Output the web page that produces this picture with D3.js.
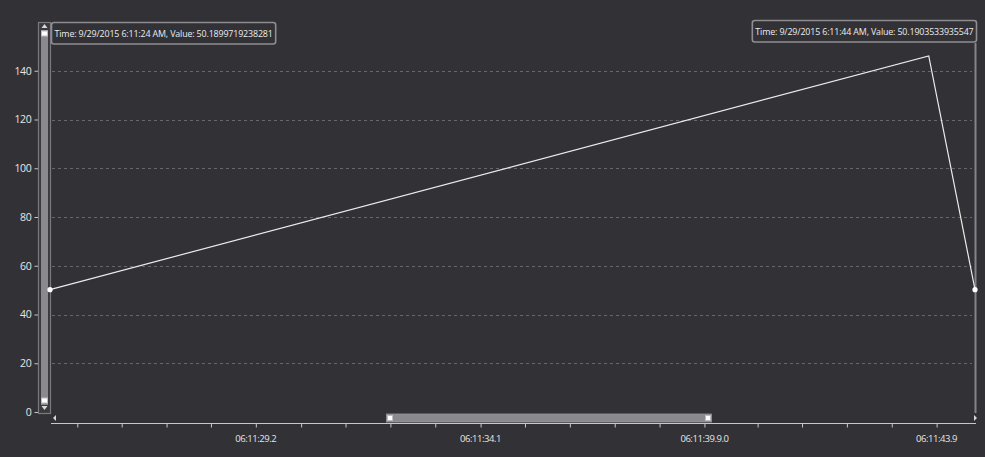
<!DOCTYPE html>
<html>
<head>
<meta charset="utf-8">
<script src="https://cdn.jsdelivr.net/npm/d3@7"></script>
<style>
  html, body { margin: 0; padding: 0; background: #323136; }
  svg { display: block; font-family: "Open Sans", "Noto Sans", sans-serif; }
</style>
</head>
<body>
<div id="chart"></div>
<script>
// data (seconds after 06:11:00)
const times = [24, 43.0, 44];
const values = [50.1899719238281, 146.1, 50.1903533935547];

const yTicks = [0, 20, 40, 60, 80, 100, 120, 140];

const minorTickTimes = [24.59, 25.55, 26.52, 27.48, 28.45, 29.43, 30.39, 31.36, 32.33, 33.31,
    34.27, 35.24, 36.21, 37.18, 38.15, 39.30, 40.26, 41.23, 42.2, 43.17];
const labelTimes = [28.45, 33.31, 38.15, 43.17];
const labelTexts = ["06:11:29.2", "06:11:34.1", "06:11:39.9.0", "06:11:43.9"];

const tooltipTexts = [
    "Time: 9/29/2015 6:11:24 AM, Value: 50.1899719238281",
    "Time: 9/29/2015 6:11:44 AM, Value: 50.1903533935547"
];

const width = 985;
const height = 457;

const svg = d3.select("#chart")
    .append("svg")
    .attr("width", width)
    .attr("height", height);

svg.append("rect")
    .attr("width", width)
    .attr("height", height)
    .attr("fill", "#323136");

const x = d3.scaleLinear().domain([24, 44]).range([50, 975]);
const y = d3.scaleLinear().domain([0, 160]).range([412, 22]);

// grid
svg.append("g")
    .selectAll("line")
    .data(yTicks.filter(d => d > 0))
    .enter()
    .append("line")
    .attr("x1", 52)
    .attr("x2", 972)
    .attr("y1", d => Math.round(y(d)) + 0.5)
    .attr("y2", d => Math.round(y(d)) + 0.5)
    .attr("stroke", "#67666b")
    .attr("stroke-width", 1)
    .attr("stroke-dasharray", "3,3");

// y axis
const yAxis = svg.append("g")
    .attr("transform", "translate(38.5,0)")
    .call(d3.axisLeft(y).tickValues(yTicks).tickSize(4).tickPadding(3));
yAxis.select(".domain").remove();
yAxis.selectAll(".tick line").attr("stroke", "#c8c8c8");
yAxis.selectAll(".tick text")
    .attr("fill", "#e6e6e6")
    .style("font-size", "10.5px")
    .style("letter-spacing", "-0.3px")
    .style("font-family", "'Open Sans', sans-serif");

// vertical scrollbar
const vs = svg.append("g");
vs.append("rect").attr("x", 38.5).attr("y", 22.5).attr("width", 12).attr("height", 391)
    .attr("fill", "#3a393e").attr("stroke", "#7a797e").attr("stroke-width", 1.2);
vs.append("rect").attr("x", 41).attr("y", 30).attr("width", 7).attr("height", 375)
    .attr("fill", "#8a898d");
vs.append("path").attr("d", "M41.5,28 L47.5,28 L44.5,24 Z").attr("fill", "#d8d8d8");
vs.append("path").attr("d", "M41.5,406 L47.5,406 L44.5,410 Z").attr("fill", "#d8d8d8");
vs.append("rect").attr("x", 41.5).attr("y", 31).attr("width", 6).attr("height", 5)
    .attr("fill", "#ffffff").attr("stroke", "#bdbdbd");
vs.append("rect").attr("x", 41.5).attr("y", 398).attr("width", 6).attr("height", 5)
    .attr("fill", "#ffffff").attr("stroke", "#bdbdbd");

// right border
svg.append("line")
    .attr("x1", 975.5).attr("x2", 975.5).attr("y1", 43).attr("y2", 413)
    .attr("stroke", "#858489").attr("stroke-width", 2);

// x axis
const xAxis = svg.append("g")
    .attr("transform", "translate(0,423.5)")
    .call(d3.axisBottom(x).tickValues(minorTickTimes).tickSize(4).tickFormat(""));
xAxis.select(".domain").remove();
xAxis.selectAll(".tick line").attr("stroke", "#c8c8c8");
svg.append("line")
    .attr("x1", 51).attr("x2", 976).attr("y1", 423.5).attr("y2", 423.5)
    .attr("stroke", "#c8c8c8").attr("stroke-width", 1.2);

svg.append("g")
    .selectAll("text")
    .data(labelTimes)
    .enter()
    .append("text")
    .attr("x", d => x(d))
    .attr("y", 442)
    .attr("text-anchor", "middle")
    .attr("fill", "#e6e6e6")
    .style("font-size", "9.5px")
    .style("letter-spacing", "-0.45px")
    .text((d, i) => labelTexts[i]);

// horizontal scrollbar
const hs = svg.append("g");
hs.append("path").attr("d", "M56,415 L56,421 L53,418 Z").attr("fill", "#d8d8d8");
hs.append("path").attr("d", "M974,415 L974,421 L977,418 Z").attr("fill", "#d8d8d8");
hs.append("rect").attr("x", 386.5).attr("y", 414).attr("width", 325).attr("height", 8)
    .attr("fill", "#8a898d").attr("stroke", "#9a999d").attr("stroke-width", 0.8);
hs.append("rect").attr("x", 387.5).attr("y", 415.5).attr("width", 5).attr("height", 5)
    .attr("fill", "#ffffff").attr("stroke", "#bdbdbd");
hs.append("rect").attr("x", 705.5).attr("y", 415.5).attr("width", 5).attr("height", 5)
    .attr("fill", "#ffffff").attr("stroke", "#bdbdbd");

// series line
const pts = times.map((t, i) => [t, values[i]]);
svg.append("path")
    .datum(pts)
    .attr("d", d3.line().x(d => x(d[0])).y(d => y(d[1])))
    .attr("fill", "none")
    .attr("stroke", "#ececec")
    .attr("stroke-width", 1.2);

// end markers
const ends = [pts[0], pts[pts.length - 1]];
svg.append("g")
    .selectAll("circle")
    .data(ends)
    .enter()
    .append("circle")
    .attr("cx", d => x(d[0]))
    .attr("cy", d => y(d[1]))
    .attr("r", 2.6)
    .attr("fill", "#ffffff");

// tooltips
const tips = [
    { left: 51.5, text: tooltipTexts[0], top: 22.5 },
    { right: 976.5, text: tooltipTexts[1], top: 20.5 }
];
tips.forEach(t => {
    const g = svg.append("g");
    const txt = g.append("text")
        .attr("fill", "#ececec")
        .style("font-size", "8.9px")
        .style("letter-spacing", "-0.15px")
        .text(t.text);
    const w = txt.node().getComputedTextLength() + 6;
    const x0 = t.left !== undefined ? t.left : t.right - w;
    g.insert("rect", "text")
        .attr("x", x0)
        .attr("y", t.top)
        .attr("width", w)
        .attr("height", 21.5)
        .attr("rx", 2.5)
        .attr("fill", "#323136")
        .attr("stroke", "#8e8d92")
        .attr("stroke-width", 1.6);
    txt.attr("x", x0 + 3).attr("y", t.top + 14.5);
});
</script>
</body>
</html>
